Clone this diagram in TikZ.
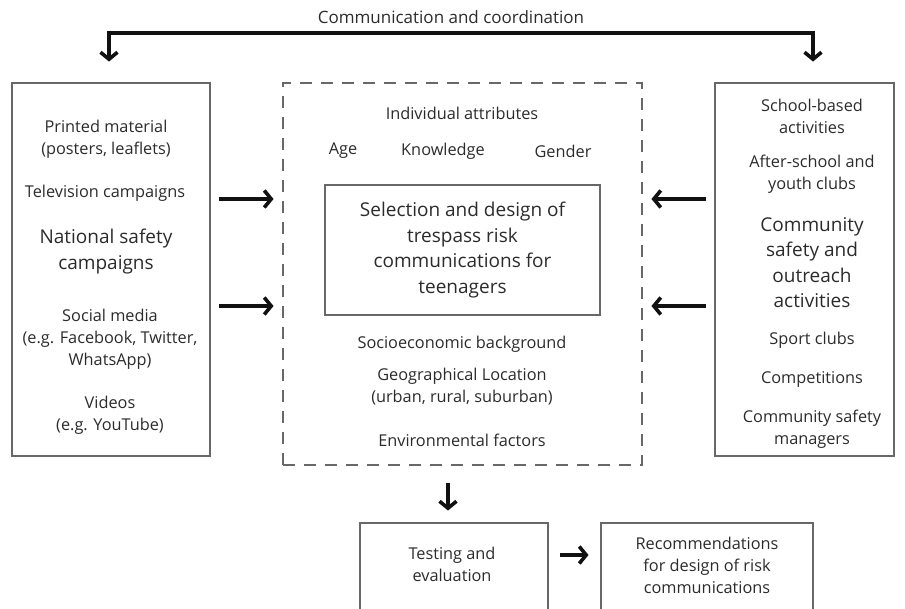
\documentclass[tikz,border=0pt]{standalone}
\usepackage{fontspec}
\setmainfont{Open Sans}
\usepackage{tikz}
\usetikzlibrary{positioning, arrows.meta, calc}
\definecolor{ink}{HTML}{2B2B2B}
\definecolor{edge}{HTML}{686868}
\definecolor{arrowink}{HTML}{111111}

\begin{document}
\begin{tikzpicture}[x=1pt, y=-1pt,
  box/.style={draw=edge, line width=2.9pt, inner sep=0pt},
  dbox/.style={draw=edge, line width=2.9pt, inner sep=0pt, dash pattern=on 12pt off 9pt},
  txt/.style={font=\fontsize{16.3}{22}\selectfont, align=center, text=ink, inner sep=0pt},
  big/.style={font=\fontsize{19}{25.5}\selectfont, align=center, text=ink, inner sep=0pt},
  arr/.style={line width=3.6pt, draw=arrowink, -{Straight Barb[length=7pt,width=17pt]}}]
\useasboundingbox (0,0) rectangle (905,609);
\clip (0,0) rectangle (905,609);
% Boxes
\node[box, minimum width=198pt, minimum height=373pt] (media) at (111,269.5) {};
\node[dbox, minimum width=359pt, minimum height=382pt] (attr) at (462.5,274) {};
\node[box, minimum width=275pt, minimum height=130pt] (sel) at (462.5,250) {};
\node[box, minimum width=179pt, minimum height=373pt] (comm) at (804.5,269.5) {};
\node[box, minimum width=188pt, minimum height=100pt] (test) at (454,573) {};
\node[box, minimum width=212pt, minimum height=100pt] (recs) at (707,573) {};
% Title
\node[txt, font=\fontsize{17}{22}\selectfont] (title) at (451,17) {Communication and coordination};
% Media channels (left)
\node[txt] (printed) at (106,139) {Printed material\\(posters, leaflets)};
\node[txt] (tv) at (105,193) {Television campaigns};
\node[big] (national) at (106,251.5) {National safety\\campaigns};
\node[txt] (social) at (110,339) {Social media\\(e.g. Facebook, Twitter,\\WhatsApp)};
\node[txt] (videos) at (110,415) {Videos\\(e.g. YouTube)};
% Attributes (centre)
\node[txt] (indiv) at (462,113) {Individual attributes};
\node[txt] (age) at (343,151) {Age};
\node[txt] (know) at (443,151) {Knowledge};
\node[txt] (gender) at (563,151) {Gender};
\node[big] at (sel) {Selection and design of\\trespass risk\\communications for\\teenagers};
\node[txt] (socio) at (462,344) {Socioeconomic background};
\node[txt] (geo) at (462,386.5) {Geographical Location\\(urban, rural, suburban)};
\node[txt] (env) at (462,440) {Environmental factors};
% Community activities (right)
\node[txt] (school) at (812,116) {School-based\\activities};
\node[txt] (after) at (812,174) {After-school and\\youth clubs};
\node[big] (outreach) at (812,262.5) {Community\\safety and\\outreach\\activities};
\node[txt] (sport) at (812,340) {Sport clubs};
\node[txt] (compet) at (812,379) {Competitions};
\node[txt] (managers) at (812,429) {Community safety\\managers};
% Bottom boxes
\node[txt] at (452,564) {Testing and\\evaluation};
\node[txt] at (707,565) {Recommendations\\for design of risk\\communications};
% Connectors
\coordinate (cl) at (109,33);
\coordinate (cr) at (813,33);
\draw[arr, {Straight Barb[length=7pt,width=17pt]}-{Straight Barb[length=7pt,width=17pt]}, shorten <=20pt, shorten >=20pt]
  (cl |- media.north) -- (cl) -- (cr) -- (cr |- comm.north);
\draw[arr, shorten <=8pt, shorten >=8pt] ([yshift=70.5pt]media.east) -- ([yshift=70.5pt]media.east -| attr.west);
\draw[arr, shorten <=8pt, shorten >=8pt] ([yshift=-36.5pt]media.east) -- ([yshift=-36.5pt]media.east -| attr.west);
\draw[arr, shorten <=8pt, shorten >=8pt] ([yshift=70.5pt]comm.west) -- ([yshift=70.5pt]comm.west -| attr.east);
\draw[arr, shorten <=8pt, shorten >=8pt] ([yshift=-36.5pt]comm.west) -- ([yshift=-36.5pt]comm.west -| attr.east);
\draw[arr, shorten <=17pt, shorten >=11pt] ([xshift=-6pt]test.north |- attr.south) -- ([xshift=-6pt]test.north);
\draw[arr, shorten <=11pt, shorten >=11pt] ([yshift=18pt]test.east) -- ([yshift=18pt]recs.west);
\end{tikzpicture}
\end{document}
